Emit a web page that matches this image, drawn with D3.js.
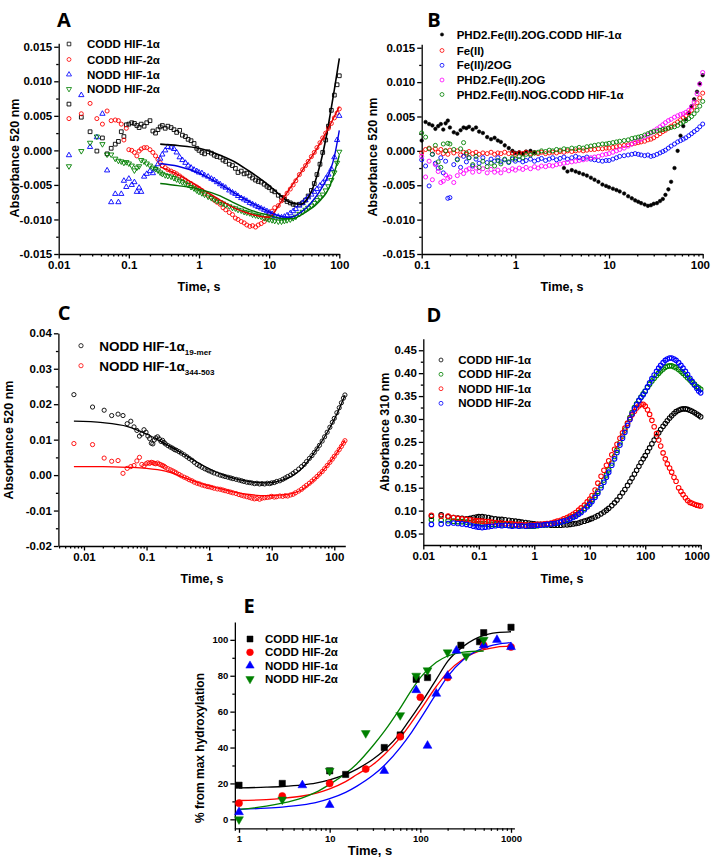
<!DOCTYPE html>
<html><head><meta charset="utf-8">
<script src="https://cdn.jsdelivr.net/npm/d3@7"></script>
<style>body{margin:0;background:#fff}svg{display:block}</style>
</head><body><script>
// ---------------- Panel A data ----------------
const tA=[0.014,0.021,0.028,0.035,0.042,0.049,0.056,0.064,0.071,0.078,
0.085,0.092,0.1,0.11,0.12,0.13,0.14,0.15,0.165,0.18,
0.2,0.22,0.24,0.26,0.28,0.3,0.33,0.36,0.4,0.44,
0.48,0.53,0.58,0.64,0.7,0.77,0.85,0.93,1,1.1,
1.2,1.35,1.5,1.65,1.8,2,2.2,2.4,2.7,3,
3.3,3.6,4,4.4,4.8,5.3,5.8,6.4,7,7.7,
8.5,9.3,10,11,12,13.5,15,16.5,18,20,
22,24,27,30,33,36,40,44,48,53,
58,64,70,77,85,93,100];
const coddHif1A=[0.0067,0.0048,0.0027,-0.0001,0.0018,-0.0005,0.0003,0.0009,0.0013,0.0027,
0.0020,0.0037,0.0038,0.0040,0.0039,0.0036,0.0033,0.0038,0.0035,0.0040,
0.0043,0.0028,0.0025,0.0030,0.0034,0.0036,0.0032,0.0035,0.0033,0.0030,
0.0026,0.0029,0.0022,0.0020,0.0016,0.0014,0.0010,0.0003,0.0000,-0.0003,
-0.0005,-0.0002,-0.0004,-0.0007,-0.0009,-0.0010,-0.0014,-0.0016,-0.0020,-0.0022,
-0.0026,-0.0032,-0.0030,-0.0034,-0.0033,-0.0037,-0.0040,-0.0043,-0.0045,-0.0046,
-0.0049,-0.0052,-0.0054,-0.0058,-0.0060,-0.0065,-0.0068,-0.0071,-0.0074,-0.0076,
-0.0078,-0.0079,-0.0078,-0.0076,-0.0072,-0.0066,-0.0058,-0.0048,-0.0035,-0.0020,
-0.0003,0.0015,0.0035,0.0058,0.0080,0.0095,0.0108];
const coddHif2A=[0.0046,0.0053,0.0068,0.0046,0.0038,0.0057,0.0043,0.0044,0.0043,0.0038,
0.0015,0.0032,0.0001,0.0000,-0.0003,-0.0008,-0.0001,0.0002,0.0004,0.0004,
0.0001,-0.0003,-0.0008,-0.0013,-0.0018,-0.0022,-0.0025,-0.0028,-0.0030,-0.0032,
-0.0034,-0.0037,-0.0040,-0.0043,-0.0046,-0.0048,-0.0051,-0.0053,-0.0055,-0.0058,
-0.0062,-0.0065,-0.0068,-0.0072,-0.0075,-0.0078,-0.0083,-0.0086,-0.0090,-0.0093,
-0.0098,-0.0100,-0.0103,-0.0105,-0.0108,-0.0110,-0.0109,-0.0111,-0.0108,-0.0106,
-0.0103,-0.0098,-0.0093,-0.0088,-0.0083,-0.0080,-0.0073,-0.0068,-0.0062,-0.0056,
-0.0050,-0.0044,-0.0035,-0.0028,-0.0022,-0.0016,-0.0009,-0.0003,0.0004,0.0011,
0.0018,0.0025,0.0032,0.0039,0.0047,0.0054,0.0060];
const noddHif1A=[-0.0007,0.0080,0.0005,0.0019,0.0053,-0.0029,-0.0075,-0.0063,-0.0075,-0.0063,
-0.0044,-0.0053,-0.0041,-0.0050,-0.0046,-0.0060,-0.0054,-0.0060,-0.0038,-0.0034,
-0.0030,-0.0033,-0.0026,-0.0020,-0.0012,-0.0006,0.0000,0.0005,0.0004,0.0002,
-0.0003,-0.0010,-0.0014,-0.0018,-0.0022,-0.0025,-0.0028,-0.0030,-0.0032,-0.0033,
-0.0036,-0.0038,-0.0041,-0.0043,-0.0046,-0.0049,-0.0052,-0.0054,-0.0058,-0.0061,
-0.0063,-0.0066,-0.0069,-0.0071,-0.0073,-0.0076,-0.0078,-0.0080,-0.0082,-0.0084,
-0.0086,-0.0088,-0.0090,-0.0092,-0.0095,-0.0096,-0.0097,-0.0096,-0.0094,-0.0091,
-0.0088,-0.0085,-0.0080,-0.0076,-0.0072,-0.0068,-0.0064,-0.0060,-0.0056,-0.0051,
-0.0047,-0.0041,-0.0035,-0.0027,-0.0010,0.0015,0.0050];
const noddHif2A=[-0.0023,-0.0001,0.0011,0.0020,0.0009,-0.0006,-0.0006,-0.0012,-0.0015,-0.0016,
-0.0018,-0.0017,-0.0019,-0.0022,-0.0029,-0.0025,-0.0023,-0.0014,-0.0016,-0.0019,
-0.0022,-0.0025,-0.0027,-0.0029,-0.0032,-0.0034,-0.0036,-0.0037,-0.0038,-0.0040,
-0.0042,-0.0044,-0.0046,-0.0048,-0.0050,-0.0053,-0.0055,-0.0058,-0.0060,-0.0062,
-0.0064,-0.0067,-0.0069,-0.0071,-0.0073,-0.0075,-0.0077,-0.0079,-0.0081,-0.0083,
-0.0084,-0.0086,-0.0087,-0.0089,-0.0090,-0.0091,-0.0093,-0.0094,-0.0095,-0.0096,
-0.0098,-0.0099,-0.0100,-0.0101,-0.0102,-0.0103,-0.0103,-0.0102,-0.0101,-0.0100,
-0.0098,-0.0096,-0.0092,-0.0089,-0.0086,-0.0083,-0.0080,-0.0076,-0.0072,-0.0068,
-0.0064,-0.0058,-0.0052,-0.0043,-0.0032,-0.0018,-0.0002];
const tFitA=[0.28,0.5,1,2,3,5,7,10,14,18,22,28,35,45,55,65,75,85,100];
const fitCodd1A=[0.0009,0.0007,0.0003,-0.0007,-0.0015,-0.0029,-0.0039,-0.0051,-0.0064,-0.0073,-0.0077,-0.0078,-0.0070,-0.0046,-0.0015,0.0019,0.0055,0.0088,0.0133];
const fitCodd2A=[-0.0024,-0.0035,-0.0053,-0.0072,-0.0082,-0.0091,-0.0095,-0.0097,-0.0078,-0.0061,-0.0048,-0.0033,-0.0018,-0.0002,0.0013,0.0026,0.0038,0.0049,0.0063];
const fitNodd1A=[-0.0019,-0.0023,-0.0033,-0.0049,-0.0060,-0.0073,-0.0081,-0.0089,-0.0095,-0.0097,-0.0096,-0.0090,-0.0082,-0.0069,-0.0056,-0.0043,-0.0028,-0.0009,0.0029];
const fitNodd2A=[-0.0048,-0.0051,-0.0056,-0.0066,-0.0075,-0.0085,-0.0090,-0.0094,-0.0098,-0.0099,-0.0099,-0.0094,-0.0088,-0.0080,-0.0071,-0.0062,-0.0049,-0.0032,-0.0007];
const legendA=["CODD HIF-1α","CODD HIF-2α","NODD HIF-1α","NODD HIF-2α"];

// ---------------- Panel B data ----------------
const tB=[0.1,0.11,0.12,0.13,0.14,0.15,0.16,0.17,0.18,0.19,
0.2,0.22,0.24,0.26,0.28,0.3,0.32,0.35,0.38,0.41,
0.45,0.5,0.55,0.6,0.65,0.7,0.77,0.85,0.93,1,
1.1,1.2,1.3,1.45,1.6,1.75,1.9,2.1,2.3,2.5,
2.75,3,3.3,3.6,4,4.4,4.8,5.3,5.8,6.4,
7,7.7,8.5,9.3,10,11,12,13,14.5,16,
17.5,19,20.5,22,24,26,28,30,32.5,35,
37.5,40,43,46,50,54,58,62,66,71,
76,81,87,93,100];
const fullB=[0.0015,0.0042,0.0039,0.0037,0.0032,0.0036,0.0039,0.0031,0.0040,0.0044,
0.0034,0.0027,0.0025,0.0030,0.0034,0.0033,0.0035,0.0031,0.0034,0.0028,
0.0026,0.0020,0.0017,0.0019,0.0015,0.0013,0.0008,0.0004,0.0000,-0.0003,
-0.0002,-0.0004,-0.0001,0.0000,-0.0002,null,null,null,null,null,
null,null,-0.0025,-0.0030,-0.0028,-0.0030,-0.0032,-0.0034,-0.0036,-0.0039,
-0.0042,-0.0045,-0.0049,-0.0051,-0.0053,-0.0055,-0.0057,-0.0059,-0.0062,-0.0066,
-0.0069,-0.0072,-0.0074,-0.0076,-0.0078,-0.0080,-0.0079,-0.0077,-0.0076,-0.0073,
-0.0070,-0.0064,-0.0056,-0.0045,-0.0025,0.0000,0.0022,0.0036,0.0046,0.0055,
0.0065,0.0075,0.0086,0.0098,0.0110];
const feB=[-0.0003,0.0002,0.0004,0.0000,0.0003,-0.0002,0.0002,-0.0004,0.0000,-0.0005,
0.0001,-0.0003,0.0000,-0.0006,-0.0002,-0.0005,-0.0001,-0.0004,-0.0002,-0.0005,
-0.0003,-0.0004,-0.0002,-0.0005,-0.0003,-0.0004,-0.0002,-0.0004,-0.0003,-0.0005,
-0.0003,-0.0004,-0.0002,-0.0004,-0.0003,-0.0004,-0.0002,-0.0004,-0.0003,-0.0002,
-0.0003,-0.0001,-0.0002,0.0000,-0.0001,0.0000,0.0001,0.0000,0.0001,0.0002,
0.0002,0.0003,0.0003,0.0004,0.0004,0.0005,0.0006,0.0007,0.0008,0.0009,
0.0010,0.0011,0.0012,0.0013,0.0014,0.0016,0.0017,0.0019,0.0022,0.0025,
0.0028,0.0030,0.0033,0.0036,0.0039,0.0042,0.0045,0.0048,0.0051,0.0055,
0.0059,0.0064,0.0070,0.0077,0.0084];
const fe2ogB=[-0.0013,-0.0022,-0.0051,-0.0005,-0.0018,-0.0025,-0.0010,-0.0032,-0.0015,-0.0069,
-0.0068,-0.0020,-0.0012,-0.0024,-0.0008,-0.0016,-0.0010,-0.0022,-0.0012,-0.0018,
-0.0010,-0.0017,-0.0012,-0.0015,-0.0010,-0.0016,-0.0013,-0.0017,-0.0012,-0.0015,
-0.0013,-0.0016,-0.0014,-0.0012,-0.0015,-0.0013,-0.0011,-0.0014,-0.0012,-0.0010,
-0.0013,-0.0011,-0.0009,-0.0012,-0.0010,-0.0008,-0.0010,-0.0011,-0.0009,-0.0012,
-0.0013,-0.0014,-0.0015,-0.0014,-0.0014,-0.0012,-0.0010,-0.0008,-0.0007,-0.0006,
-0.0005,-0.0004,-0.0005,-0.0006,-0.0007,-0.0006,-0.0008,-0.0007,-0.0005,-0.0003,
-0.0001,0.0001,0.0004,0.0007,0.0010,0.0013,0.0015,0.0017,0.0019,0.0022,
0.0025,0.0028,0.0031,0.0035,0.0039];
const phd2ogB=[-0.0008,-0.0038,-0.0015,-0.0042,-0.0020,-0.0030,-0.0046,-0.0044,-0.0035,-0.0040,
-0.0038,-0.0046,-0.0036,-0.0030,-0.0033,-0.0028,-0.0026,-0.0031,-0.0025,-0.0030,
-0.0026,-0.0032,-0.0027,-0.0031,-0.0028,-0.0032,-0.0027,-0.0029,-0.0026,-0.0028,
-0.0025,-0.0027,-0.0024,-0.0026,-0.0023,-0.0025,-0.0022,-0.0023,-0.0021,-0.0022,
-0.0020,-0.0019,-0.0018,-0.0017,-0.0016,-0.0015,-0.0014,-0.0013,-0.0012,-0.0010,
-0.0009,-0.0008,-0.0006,-0.0005,-0.0004,-0.0002,0.0000,0.0002,0.0004,0.0007,
0.0010,0.0013,0.0015,0.0017,0.0020,0.0023,0.0026,0.0029,0.0032,0.0035,
0.0038,0.0041,0.0044,0.0046,0.0049,0.0051,0.0053,0.0054,0.0056,0.0059,
0.0064,0.0071,0.0083,0.0097,0.0114];
const nogB=[0.0026,0.0020,0.0003,-0.0005,0.0008,-0.0016,-0.0024,0.0010,0.0000,0.0011,
0.0010,0.0002,-0.0013,0.0003,0.0012,-0.0003,-0.0010,-0.0020,-0.0008,-0.0024,
-0.0015,-0.0023,-0.0018,-0.0022,-0.0014,-0.0019,-0.0012,-0.0016,-0.0010,-0.0012,
-0.0008,-0.0010,-0.0005,-0.0006,-0.0003,-0.0002,0.0000,-0.0001,0.0001,0.0000,
0.0002,0.0001,0.0003,0.0002,0.0004,0.0003,0.0005,0.0004,0.0006,0.0007,
0.0008,0.0009,0.0010,0.0010,0.0011,0.0012,0.0013,0.0014,0.0015,0.0016,
0.0018,0.0019,0.0020,0.0021,0.0023,0.0025,0.0027,0.0028,0.0029,0.0030,
0.0031,0.0032,0.0033,0.0034,0.0035,0.0037,0.0040,0.0042,0.0044,0.0047,
0.0050,0.0054,0.0059,0.0065,0.0072];
const legendB=["PHD2.Fe(II).2OG.CODD HIF-1α","Fe(II)","Fe(II)/2OG","PHD2.Fe(II).2OG","PHD2.Fe(II).NOG.CODD HIF-1α"];

// ---------------- Panel C data ----------------
const tC=[0.0069,0.0137,0.021,0.0277,0.035,0.042,0.049,0.056,0.063,0.07,
0.077,0.084,0.091,0.098,0.105,0.112,0.119,0.126,0.133,0.14,
0.15,0.16,0.17,0.18,0.19,0.2,0.22,0.24,0.26,0.28,
0.3,0.33,0.36,0.4,0.44,0.48,0.53,0.58,0.64,0.7,
0.77,0.85,0.93,1,1.1,1.2,1.35,1.5,1.65,1.8,
2,2.2,2.4,2.7,3,3.3,3.6,4,4.4,4.8,
5.3,5.8,6.4,7,7.7,8.5,9.3,10,11,12,
13.5,15,16.5,18,20,22,24,27,30,33,
36,40,44,48,53,58,64,70,77,85,
93,100,110,120,130,140,148];
const nodd19merC=[0.0227,0.0192,0.0183,0.0168,0.0172,0.0168,0.0145,0.0152,0.0136,0.0126,
0.0110,0.0116,0.0128,0.0121,0.0110,0.0103,0.0090,0.0088,0.0099,0.0105,
0.0108,0.0102,0.0095,0.0098,0.0092,0.0088,0.0083,0.0079,0.0076,0.0072,
0.0070,0.0066,0.0062,0.0057,0.0052,0.0047,0.0042,0.0036,0.0030,0.0026,
0.0022,0.0018,0.0015,0.0012,0.0009,0.0006,0.0003,0.0000,-0.0002,-0.0004,
-0.0006,-0.0008,-0.0010,-0.0012,-0.0014,-0.0016,-0.0018,-0.0020,-0.0021,-0.0022,
-0.0024,-0.0023,-0.0025,-0.0024,-0.0025,-0.0023,-0.0024,-0.0022,-0.0021,-0.0018,
-0.0016,-0.0012,-0.0008,-0.0004,0.0000,0.0005,0.0010,0.0017,0.0024,0.0030,
0.0038,0.0047,0.0055,0.0064,0.0074,0.0084,0.0096,0.0108,0.0121,0.0135,
0.0149,0.0160,0.0176,0.0190,0.0204,0.0217,0.0226];
const nodd344C=[0.0089,0.0086,0.0048,0.0039,0.0041,0.0005,0.0019,0.0024,0.0027,0.0040,
0.0050,0.0030,0.0026,0.0032,0.0035,0.0033,0.0036,0.0035,0.0033,0.0032,
0.0034,0.0031,0.0029,0.0027,0.0025,0.0022,0.0018,0.0015,0.0012,0.0009,
0.0006,0.0002,-0.0002,-0.0006,-0.0009,-0.0013,-0.0016,-0.0020,-0.0023,-0.0025,
-0.0028,-0.0030,-0.0032,-0.0033,-0.0035,-0.0037,-0.0039,-0.0040,-0.0042,-0.0044,
-0.0046,-0.0048,-0.0050,-0.0052,-0.0055,-0.0057,-0.0059,-0.0061,-0.0063,-0.0065,
-0.0067,-0.0066,-0.0068,-0.0065,-0.0064,-0.0063,-0.0062,-0.0060,-0.0062,-0.0061,
-0.0059,-0.0060,-0.0058,-0.0059,-0.0056,-0.0054,-0.0050,-0.0045,-0.0040,-0.0034,
-0.0029,-0.0023,-0.0017,-0.0011,-0.0004,0.0003,0.0010,0.0018,0.0027,0.0036,
0.0045,0.0053,0.0063,0.0072,0.0081,0.0090,0.0097];
const tFitC=[0.0069,0.02,0.05,0.1,0.2,0.4,0.7,1,2,4,8,15,30,50,80,110,148];
const fit19merC=[0.0152,0.0148,0.0137,0.0116,0.0088,0.0058,0.0033,0.0018,-0.0004,-0.0017,-0.0022,-0.0014,0.0018,0.0068,0.0125,0.0172,0.0225];
const fit344C=[0.0024,0.0024,0.0022,0.0019,0.0011,-0.0007,-0.0022,-0.0030,-0.0044,-0.0054,-0.0058,-0.0056,-0.0042,-0.0010,0.0030,0.0063,0.0098];

// ---------------- Panel D data ----------------
const tD=[0.014,0.021,0.028,0.035,0.042,0.05,0.06,0.07,0.08,0.09,
0.1,0.115,0.13,0.15,0.17,0.2,0.23,0.26,0.3,0.35,
0.4,0.46,0.53,0.6,0.7,0.8,0.9,1,1.15,1.3,
1.5,1.7,2,2.3,2.6,3,3.4,3.9,4.4,5,
5.6,6.3,7,8,9,10,11,12.5,14,16,
18,20,22,25,28,31,35,39,43,48,
53,58,64,70,77,84,92,100,110,120,
132,145,160,175,190,210,230,250,275,300,
330,360,400,440,480,530,580,640,700,770,
850,920,1000];
const coddHif1D=[0.088,0.091,0.087,0.085,0.084,0.083,0.082,0.083,0.085,0.086,
0.087,0.087,0.086,0.085,0.083,0.082,0.081,0.081,0.080,0.079,
0.078,0.077,0.076,0.075,0.074,0.073,0.072,0.071,0.070,0.070,
0.069,0.069,0.068,0.068,0.068,0.068,0.069,0.069,0.070,0.071,
0.072,0.073,0.075,0.077,0.079,0.081,0.083,0.086,0.089,0.093,
0.097,0.101,0.105,0.111,0.117,0.123,0.131,0.139,0.146,0.155,
0.163,0.171,0.180,0.188,0.197,0.205,0.213,0.220,0.229,0.237,
0.246,0.254,0.262,0.270,0.277,0.284,0.290,0.296,0.302,0.307,
0.312,0.316,0.319,0.321,0.322,0.322,0.321,0.319,0.317,0.314,
0.311,0.308,0.305];
const coddHif2D=[0.080,0.079,0.078,0.077,0.076,0.076,0.075,0.074,0.073,0.072,
0.072,0.071,0.071,0.070,0.070,0.070,0.069,0.069,0.069,0.068,
0.068,0.068,0.067,0.067,0.066,0.066,0.066,0.066,0.067,0.068,
0.069,0.070,0.071,0.073,0.074,0.076,0.078,0.081,0.084,0.087,
0.091,0.095,0.099,0.105,0.111,0.117,0.124,0.133,0.142,0.155,
0.167,0.178,0.189,0.204,0.218,0.232,0.248,0.263,0.276,0.290,
0.303,0.314,0.325,0.333,0.341,0.348,0.355,0.361,0.369,0.376,
0.383,0.389,0.395,0.400,0.405,0.409,0.413,0.415,0.416,0.416,
0.414,0.412,0.408,0.404,0.400,0.395,0.390,0.385,0.380,0.376,
0.371,0.368,0.365];
const noddHif1D=[0.090,0.088,0.088,0.085,0.083,0.082,0.081,0.080,0.079,0.078,
0.078,0.077,0.076,0.076,0.075,0.074,0.073,0.073,0.072,0.072,
0.071,0.070,0.070,0.069,0.069,0.068,0.068,0.069,0.070,0.070,
0.071,0.072,0.073,0.075,0.077,0.079,0.082,0.085,0.088,0.092,
0.096,0.101,0.106,0.112,0.119,0.125,0.133,0.145,0.160,0.175,
0.188,0.199,0.209,0.222,0.234,0.245,0.258,0.270,0.280,0.291,
0.300,0.309,0.317,0.324,0.329,0.332,0.332,0.328,0.320,0.310,
0.297,0.283,0.268,0.254,0.241,0.226,0.213,0.202,0.193,0.184,
0.173,0.164,0.150,0.142,0.135,0.128,0.122,0.118,0.116,0.114,
0.112,0.111,0.110];
const noddHif2D=[0.070,0.071,0.072,0.073,0.072,0.071,0.070,0.068,0.066,0.065,
0.064,0.063,0.064,0.065,0.066,0.067,0.068,0.067,0.068,0.067,
0.066,0.067,0.066,0.067,0.066,0.067,0.067,0.067,0.068,0.068,
0.069,0.070,0.071,0.072,0.073,0.075,0.077,0.079,0.082,0.085,
0.088,0.092,0.096,0.102,0.108,0.114,0.120,0.129,0.138,0.150,
0.162,0.173,0.184,0.199,0.213,0.227,0.243,0.258,0.271,0.286,
0.299,0.311,0.322,0.331,0.340,0.347,0.353,0.360,0.370,0.379,
0.388,0.396,0.404,0.411,0.417,0.423,0.428,0.431,0.433,0.433,
0.431,0.428,0.423,0.417,0.411,0.404,0.397,0.389,0.382,0.374,
0.367,0.361,0.357];
const legendD=["CODD HIF-1α","CODD HIF-2α","NODD HIF-1α","NODD HIF-2α"];

// ---------------- Panel E data ----------------
const tE1=[1,3,10,15,40,60,90,120,280,450,500,1000];
const coddHif1E=[19,20,27,25,40,47,78,79,97,99,104,107];
const tE2=[1,3,10,25,60,100,200,500,1000];
const coddHif2E=[9,13,20,28,46,68,79,97,96];
const tE3=[1,5,10,40,90,120,150,200,250,500,700,1000];
const noddHif1E=[4,19,8,27,72,41,70,80,94,97,100,96];
const tE4=[1,3,10,25,60,90,120,200,320,500];
const noddHif2E=[0,11,27,48,58,80,83,93,91,100];
const tFitE=[1,2,3,5,7,10,15,20,30,40,60,80,100,150,200,300,500,700,1000];
const fitCodd1E=[17.5,17.9,18.3,19.2,20.2,22,25,28,33.5,38.5,48,57,64,78,88,96.5,102.5,104,104.5];
const fitCodd2E=[10.5,11,11.7,13,14.5,17,21,25,30.5,36,45.5,54,61,74,82,89.5,94.5,96,96.5];
const fitNodd1E=[5.6,6.2,6.8,8,9.3,11.5,15,18.5,24.5,30,40,48.5,56,70,79.5,89,95.5,97.5,98.5];
const tFitE4=[1,2,3,5,7,10,15,20,30,40,60,80,100,150,200,300,500];
const fitNodd2E=[5.5,7.3,9,12,15,19.5,25.5,31,41,49,62,72,79,87.5,91,93.2,93.8];

// ---------------- helpers ----------------
const FONT='"Liberation Sans", Arial, Helvetica, sans-serif';
const svg=d3.select("body").append("svg").attr("width",711).attr("height",859);

function logMinor(dom){
  const out=[];const a=Math.floor(Math.log10(dom[0])),b=Math.ceil(Math.log10(dom[1]));
  for(let k=a;k<=b;k++)for(let m=2;m<=9;m++){const v=m*Math.pow(10,k);if(v>=dom[0]*0.999&&v<=dom[1]*1.001)out.push(v);}
  return out;
}
function styleAxis(g,fs){
  g.attr("font-family",FONT).attr("font-size",fs).attr("font-weight","bold");
  g.selectAll("path,line").attr("stroke","#000").attr("stroke-width",1.3);
  g.selectAll("text").attr("fill","#000");
}
function drawAxes(x,y,o){
  const yb=y.range()[0],xl=x.range()[0],fs=o.fs||11.5;
  svg.append("g").attr("transform",`translate(0,${yb})`)
    .call(d3.axisBottom(x).tickValues(logMinor(x.domain())).tickSize(2.5).tickFormat(()=>""))
    .call(g=>g.select(".domain").remove()).call(g=>styleAxis(g,fs));
  const gx=svg.append("g").attr("transform",`translate(0,${yb})`)
    .call(d3.axisBottom(x).tickValues(o.xTicks).tickSize(4.5).tickSizeOuter(0).tickPadding(2.5).tickFormat(d=>String(d)))
    .call(g=>styleAxis(g,fs));
  // keep the last label inside the page
  gx.selectAll(".tick text").each(function(d){
    const w=this.getComputedTextLength(); const right=x(d)+w/2;
    if(right>709.5) d3.select(this).attr("dx",709.5-right);
  });
  svg.append("g").attr("transform",`translate(${xl},0)`)
    .call(d3.axisLeft(y).tickValues(o.yMinor).tickSize(2.5).tickFormat(()=>""))
    .call(g=>g.select(".domain").remove()).call(g=>styleAxis(g,fs));
  svg.append("g").attr("transform",`translate(${xl},0)`)
    .call(d3.axisLeft(y).tickValues(o.yTicks).tickSize(4.5).tickSizeOuter(0).tickPadding(2).tickFormat(o.yFmt))
    .call(g=>styleAxis(g,fs));
}
function label(txt,x,y,opt={}){
  const t=svg.append("text").attr("x",x).attr("y",y).text(txt)
    .attr("font-family",opt.family||FONT).attr("font-weight","bold")
    .attr("font-size",opt.fs||12.5).attr("fill","#000")
    .attr("text-anchor",opt.anchor||"middle");
  if(opt.rot)t.attr("transform",`rotate(-90,${x},${y})`);
  return t;
}
const SHAPES={square:d3.symbolSquare,circle:d3.symbolCircle,tri:d3.symbolTriangle,down:d3.symbolTriangle};
function symPath(shape,size){return d3.symbol().type(SHAPES[shape]).size(size)();}
function scatter(x,y,ts,vs,o){
  const data=ts.map((t,i)=>[t,vs[i]]).filter(d=>d[1]!=null);
  const p=symPath(o.shape,o.size);
  svg.append("g").selectAll("path").data(data).join("path").attr("d",p)
    .attr("transform",d=>`translate(${x(d[0])},${y(d[1])})${o.shape==="down"?" rotate(180)":""}`)
    .attr("fill",o.fill?o.color:"none").attr("stroke",o.color).attr("stroke-width",o.sw||0.9);
}
function fitLine(x,y,ts,vs,color,w){
  const line=d3.line().x(d=>x(d[0])).y(d=>y(d[1])).curve(d3.curveMonotoneX);
  svg.append("path").datum(ts.map((t,i)=>[t,vs[i]])).attr("d",line)
    .attr("fill","none").attr("stroke",color).attr("stroke-width",w||1.4);
}
function legend(items,mx,tx,rows,fs){
  items.forEach((it,i)=>{
    const p=symPath(it.shape,it.size);
    svg.append("path").attr("d",p)
      .attr("transform",`translate(${mx},${rows[i]})${it.shape==="down"?" rotate(180)":""}`)
      .attr("fill",it.fill?it.color:"none").attr("stroke",it.color).attr("stroke-width",it.sw||0.8);
    const t=label(it.text,tx,rows[i]+fs*0.36,{anchor:"start",fs:fs});
    if(it.sub)t.append("tspan").text(it.sub).attr("font-size",fs*0.6).attr("dy",fs*0.3);
  });
}
const fmt=n=>d=>d.toFixed(n);

// ---------------- Panel A ----------------
{
  const x=d3.scaleLog().domain([0.01,100]).range([58.7,339.3]);
  const y=d3.scaleLinear().domain([-0.015,0.0155]).range([254,43.3]);
  drawAxes(x,y,{xTicks:[0.01,0.1,1,10,100],yTicks:[-0.015,-0.01,-0.005,0,0.005,0.01,0.015],
    yMinor:[-0.0125,-0.0075,-0.0025,0.0025,0.0075,0.0125],yFmt:fmt(3)});
  scatter(x,y,tA,coddHif1A,{shape:"square",size:14,color:"#000"});
  scatter(x,y,tA,coddHif2A,{shape:"circle",size:13,color:"#ff0000"});
  scatter(x,y,tA,noddHif1A,{shape:"tri",size:12,color:"#0000ff"});
  scatter(x,y,tA,noddHif2A,{shape:"down",size:12,color:"#008000"});
  fitLine(x,y,tFitA,fitCodd1A,"#000",1.6);
  fitLine(x,y,tFitA,fitCodd2A,"#e00000",1.4);
  fitLine(x,y,tFitA,fitNodd1A,"#0000e0",1.4);
  fitLine(x,y,tFitA,fitNodd2A,"#007000",1.4);
  legend([{text:legendA[0],shape:"square",size:13,color:"#000"},
          {text:legendA[1],shape:"circle",size:12,color:"#ff0000"},
          {text:legendA[2],shape:"tri",size:11,color:"#0000ff"},
          {text:legendA[3],shape:"down",size:11,color:"#008000"}],69,87,[44,59.5,74.5,89],11.5);
  label("A",64,26.7,{family:'"Open Sans", sans-serif',fs:20});
  label("Absorbance 520 nm",18.5,158,{rot:true});
  label("Time, s",199,291);
}
// ---------------- Panel B ----------------
{
  const x=d3.scaleLog().domain([0.1,100]).range([421.7,702.7]);
  const y=d3.scaleLinear().domain([-0.015,0.0155]).range([254,44.3]);
  drawAxes(x,y,{xTicks:[0.1,1,10,100],yTicks:[-0.015,-0.01,-0.005,0,0.005,0.01,0.015],
    yMinor:[-0.0125,-0.0075,-0.0025,0.0025,0.0075,0.0125],yFmt:fmt(3)});
  scatter(x,y,tB,fullB,{shape:"circle",size:10,color:"#000",fill:true,sw:0.6});
  scatter(x,y,tB,feB,{shape:"circle",size:13,color:"#ff0000"});
  scatter(x,y,tB,fe2ogB,{shape:"circle",size:13,color:"#0000ff"});
  scatter(x,y,tB,phd2ogB,{shape:"circle",size:13,color:"#ff00ff"});
  scatter(x,y,tB,nogB,{shape:"circle",size:13,color:"#008000"});
  legend([{text:legendB[0],shape:"circle",size:8,color:"#000",fill:true,sw:0.6},
          {text:legendB[1],shape:"circle",size:12,color:"#ff0000"},
          {text:legendB[2],shape:"circle",size:12,color:"#0000ff"},
          {text:legendB[3],shape:"circle",size:12,color:"#ff00ff"},
          {text:legendB[4],shape:"circle",size:12,color:"#008000"}],442,456.7,[34.5,50.5,65.3,80,94.5],11.5);
  label("B",434,26.7,{family:'"Open Sans", sans-serif',fs:20});
  label("Absorbance 520 nm",376.5,157,{rot:true});
  label("Time, s",562,291);
}
// ---------------- Panel C ----------------
{
  const x=d3.scaleLog().domain([0.0039,150]).range([58.4,345.3]);
  const y=d3.scaleLinear().domain([-0.02,0.04]).range([546,333.3]);
  drawAxes(x,y,{xTicks:[0.01,0.1,1,10,100],yTicks:[-0.02,-0.01,0,0.01,0.02,0.03,0.04],
    yMinor:[-0.015,-0.005,0.005,0.015,0.025,0.035],yFmt:fmt(2)});
  scatter(x,y,tC,nodd19merC,{shape:"circle",size:14,color:"#000"});
  scatter(x,y,tC,nodd344C,{shape:"circle",size:14,color:"#ff0000"});
  fitLine(x,y,tFitC,fit19merC,"#000",1.3);
  fitLine(x,y,tFitC,fit344C,"#ff0000",1.3);
  legend([{text:"NODD HIF-1α",sub:"19-mer",shape:"circle",size:14,color:"#000"},
          {text:"NODD HIF-1α",sub:"344-503",shape:"circle",size:14,color:"#ff0000"}],81,99.3,[345.7,365.7],13.5);
  label("C",64,320,{family:'"Open Sans", sans-serif',fs:20});
  label("Absorbance 520 nm",12.5,440,{rot:true});
  label("Time, s",202,583);
}
// ---------------- Panel D ----------------
{
  const x=d3.scaleLog().domain([0.01,1000]).range([423.3,700.7]);
  const y=d3.scaleLinear().domain([0.025,0.475]).range([545,338.8]);
  drawAxes(x,y,{xTicks:[0.01,0.1,1,10,100,1000],yTicks:[0.05,0.1,0.15,0.2,0.25,0.3,0.35,0.4,0.45],
    yMinor:[0.075,0.125,0.175,0.225,0.275,0.325,0.375,0.425],yFmt:fmt(2)});
  scatter(x,y,tD,coddHif1D,{shape:"circle",size:16,color:"#000",sw:1.1});
  scatter(x,y,tD,coddHif2D,{shape:"circle",size:16,color:"#008000",sw:1.1});
  scatter(x,y,tD,noddHif1D,{shape:"circle",size:16,color:"#ff0000",sw:1.1});
  scatter(x,y,tD,noddHif2D,{shape:"circle",size:16,color:"#0000ff",sw:1.1});
  legend([{text:legendD[0],shape:"circle",size:12,color:"#000"},
          {text:legendD[1],shape:"circle",size:12,color:"#008000"},
          {text:legendD[2],shape:"circle",size:12,color:"#ff0000"},
          {text:legendD[3],shape:"circle",size:12,color:"#0000ff"}],441,458.3,[360,374.3,388.7,403.3],11.5);
  label("D",434,321.7,{family:'"Open Sans", sans-serif',fs:20});
  label("Absorbance 310 nm",389,432,{rot:true});
  label("Time, s",562,583);
}
// ---------------- Panel E ----------------
{
  const x=d3.scaleLog().domain([0.9,1090]).range([234.85,514.4]);
  const y=d3.scaleLinear().domain([-5,110]).range([828.3,621.9]);
  drawAxes(x,y,{xTicks:[1,10,100,1000],yTicks:[0,20,40,60,80,100],yMinor:[10,30,50,70,90],yFmt:d=>String(d),fs:9.5});
  fitLine(x,y,tFitE,fitCodd1E,"#000",1.3);
  fitLine(x,y,tFitE,fitCodd2E,"#ff0000",1.3);
  fitLine(x,y,tFitE,fitNodd1E,"#0000ff",1.3);
  fitLine(x,y,tFitE4,fitNodd2E,"#008000",1.3);
  scatter(x,y,tE1,coddHif1E,{shape:"square",size:40,color:"#000",fill:true,sw:0.5});
  scatter(x,y,tE2,coddHif2E,{shape:"circle",size:40,color:"#ff0000",fill:true,sw:0.5});
  scatter(x,y,tE3,noddHif1E,{shape:"tri",size:34,color:"#0000ff",fill:true,sw:0.5});
  scatter(x,y,tE4,noddHif2E,{shape:"down",size:34,color:"#008000",fill:true,sw:0.5});
  legend([{text:legendD[0],shape:"square",size:36,color:"#000",fill:true,sw:0.5},
          {text:legendD[1],shape:"circle",size:36,color:"#ff0000",fill:true,sw:0.5},
          {text:legendD[2],shape:"tri",size:30,color:"#0000ff",fill:true,sw:0.5},
          {text:legendD[3],shape:"down",size:30,color:"#008000",fill:true,sw:0.5}],250,265,[639,652.3,665.7,679],11.5);
  label("E",249,613,{family:'"Open Sans", sans-serif',fs:20});
  label("% from max hydroxylation",204,748,{rot:true,fs:12});
  label("Time, s",370,855,{fs:13});
}
</script></body></html>
